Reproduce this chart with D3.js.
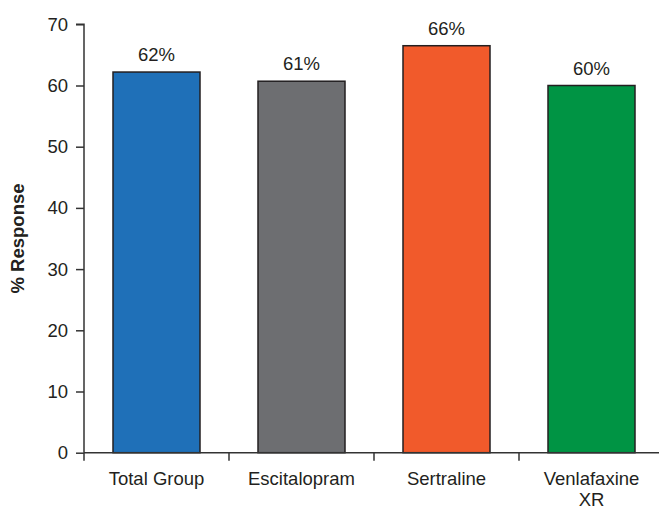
<!DOCTYPE html>
<html>
<head>
<meta charset="utf-8">
<script src="https://cdn.jsdelivr.net/npm/d3@7"></script>
<style>
  html, body { margin: 0; padding: 0; background: #fff; }
  svg { display: block; font-family: "Liberation Sans", Arial, Helvetica, sans-serif; }
</style>
</head>
<body>
<svg id="chart" width="659" height="510"></svg>
<script>
const categories = ["Total Group", "Escitalopram", "Sertraline", "Venlafaxine XR"];
const categoryLines = [["Total Group"], ["Escitalopram"], ["Sertraline"], ["Venlafaxine", "XR"]];
const values = [62.2, 60.7, 66.5, 60.0];
const valueLabels = ["62%", "61%", "66%", "60%"];
const colors = ["#1f70b8", "#6d6e71", "#f15a2b", "#009444"];
const yTicks = [0, 10, 20, 30, 40, 50, 60, 70];

(function () {
const svg = d3.select("#chart");
const mLeft = 84, mRight = 664, mTop = 24.3, mBottom = 452.7;
const fontSize = 18.5;
const axisColor = "#333";

const x = d3.scaleBand().domain(categories).range([mLeft, mRight])
  .paddingInner(0.4).paddingOuter(0.2);
const y = d3.scaleLinear().domain([0, 70]).range([mBottom, mTop]);

// bars
svg.append("g").selectAll("rect").data(categories).join("rect")
  .attr("x", d => x(d))
  .attr("y", (d, i) => y(values[i]))
  .attr("width", x.bandwidth())
  .attr("height", (d, i) => y(0) - y(values[i]))
  .attr("fill", (d, i) => colors[i])
  .attr("stroke", "#231f20")
  .attr("stroke-width", 1.5);

// value labels
svg.append("g").selectAll("text").data(categories).join("text")
  .attr("x", d => x(d) + x.bandwidth() / 2)
  .attr("y", (d, i) => y(values[i]) - 11)
  .attr("text-anchor", "middle")
  .attr("font-size", fontSize)
  .attr("fill", "#231f20")
  .text((d, i) => valueLabels[i]);

// y axis
const yAxis = svg.append("g").attr("transform", `translate(${mLeft},0)`)
  .call(d3.axisLeft(y).tickValues(yTicks).tickSize(8).tickPadding(8));
yAxis.select(".domain").attr("stroke", axisColor).attr("stroke-width", 1.5)
  .attr("d", `M-8,${mTop}H0V${mBottom}`);
yAxis.selectAll(".tick line").attr("stroke", axisColor).attr("stroke-width", 1.5);
yAxis.selectAll(".tick text").attr("font-size", fontSize).attr("fill", "#231f20")
  .attr("font-family", "Liberation Sans, Arial, sans-serif");

// x axis line
svg.append("line")
  .attr("x1", mLeft).attr("x2", 659)
  .attr("y1", mBottom).attr("y2", mBottom)
  .attr("stroke", axisColor).attr("stroke-width", 1.5);

// boundary ticks between categories
const boundaries = categories.map(d => x(d) - x.step() * x.paddingInner() / 2);
boundaries[0] = mLeft;
svg.append("g").selectAll("line").data(boundaries).join("line")
  .attr("x1", d => d).attr("x2", d => d)
  .attr("y1", mBottom).attr("y2", mBottom + 8)
  .attr("stroke", axisColor).attr("stroke-width", 1.5);

// x labels
const xl = svg.append("g").selectAll("text").data(categories).join("text")
  .attr("x", d => x(d) + x.bandwidth() / 2)
  .attr("y", 485)
  .attr("text-anchor", "middle")
  .attr("font-size", fontSize)
  .attr("fill", "#231f20");
xl.each(function(d, i) {
  const t = d3.select(this);
  categoryLines[i].forEach((line, j) => {
    t.append("tspan")
      .attr("x", x(d) + x.bandwidth() / 2)
      .attr("dy", j === 0 ? 0 : 21)
      .text(line);
  });
});

// y axis title
svg.append("text")
  .attr("transform", `translate(24,${(mTop + mBottom) / 2}) rotate(-90)`)
  .attr("text-anchor", "middle")
  .attr("font-size", fontSize)
  .attr("font-weight", "bold")
  .attr("fill", "#231f20")
  .text("% Response");
})();
</script>
</body>
</html>
